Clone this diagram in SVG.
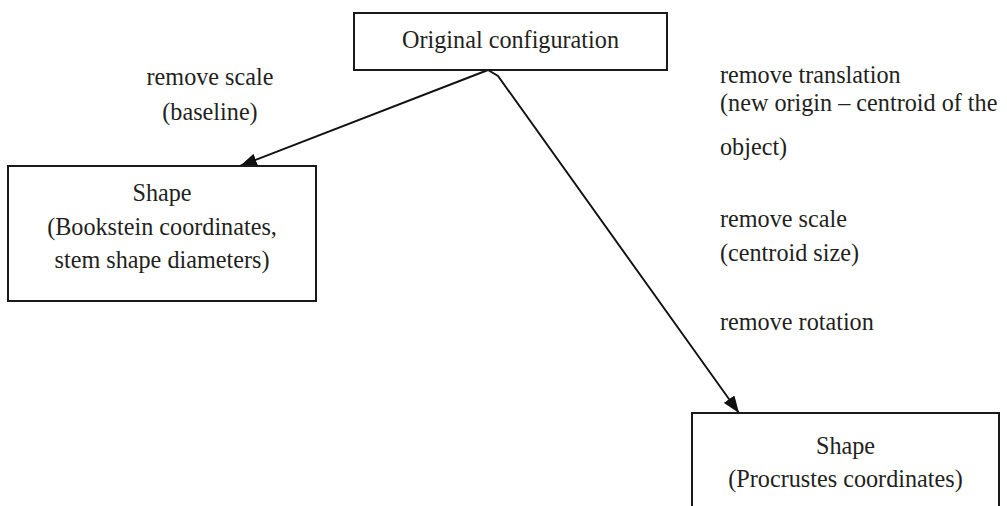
<svg xmlns="http://www.w3.org/2000/svg" width="1007" height="506" viewBox="0 0 1007 506">
<defs>
<style>
.box{fill:#fff;stroke:#1a1a1a;stroke-width:2}
.t{font-size:24.2px;fill:#231f20}
.c{text-anchor:middle}
.edge{fill:none;stroke:#111;stroke-width:1.9}
</style>
<marker id="arr" viewBox="0 0 17 13" refX="17" refY="6.5" markerWidth="17" markerHeight="13" markerUnits="userSpaceOnUse" orient="auto">
<path d="M0,0 L17,6.5 L0,13 z" fill="#111"/>
</marker>
</defs>
<rect width="1007" height="506" fill="#fff"/>
<g id="connectors">
<line class="edge" x1="488" y1="70" x2="240" y2="166" marker-end="url(#arr)"/>
<polyline class="edge" points="488,70 498,76 739,413" marker-end="url(#arr)"/>
</g>
<g font-family="Liberation Serif, Tinos, Times New Roman, DejaVu Serif, serif">
<g id="original">
<rect class="box" x="354" y="13" width="313" height="57"/>
<text class="t c" x="510.5" y="48">Original configuration</text>
</g>
<g id="bookstein">
<rect class="box" x="8" y="166" width="308" height="135"/>
<text class="t c" x="162" y="201">Shape</text>
<text class="t c" x="162" y="235">(Bookstein coordinates,</text>
<text class="t c" x="162" y="268">stem shape diameters)</text>
</g>
<g id="procrustes">
<rect class="box" x="692" y="413" width="307" height="110"/>
<text class="t c" x="845.5" y="454">Shape</text>
<text class="t c" x="845.5" y="487">(Procrustes coordinates)</text>
</g>
<g id="labels">
<text class="t c" x="210" y="85">remove scale</text>
<text class="t c" x="210" y="120">(baseline)</text>
<text class="t" x="720" y="83">remove translation</text>
<text class="t" x="720" y="111">(new origin – centroid of the</text>
<text class="t" x="720" y="155">object)</text>
<text class="t" x="720" y="227">remove scale</text>
<text class="t" x="720" y="261">(centroid size)</text>
<text class="t" x="720" y="330">remove rotation</text>
</g>
</g>
</svg>
